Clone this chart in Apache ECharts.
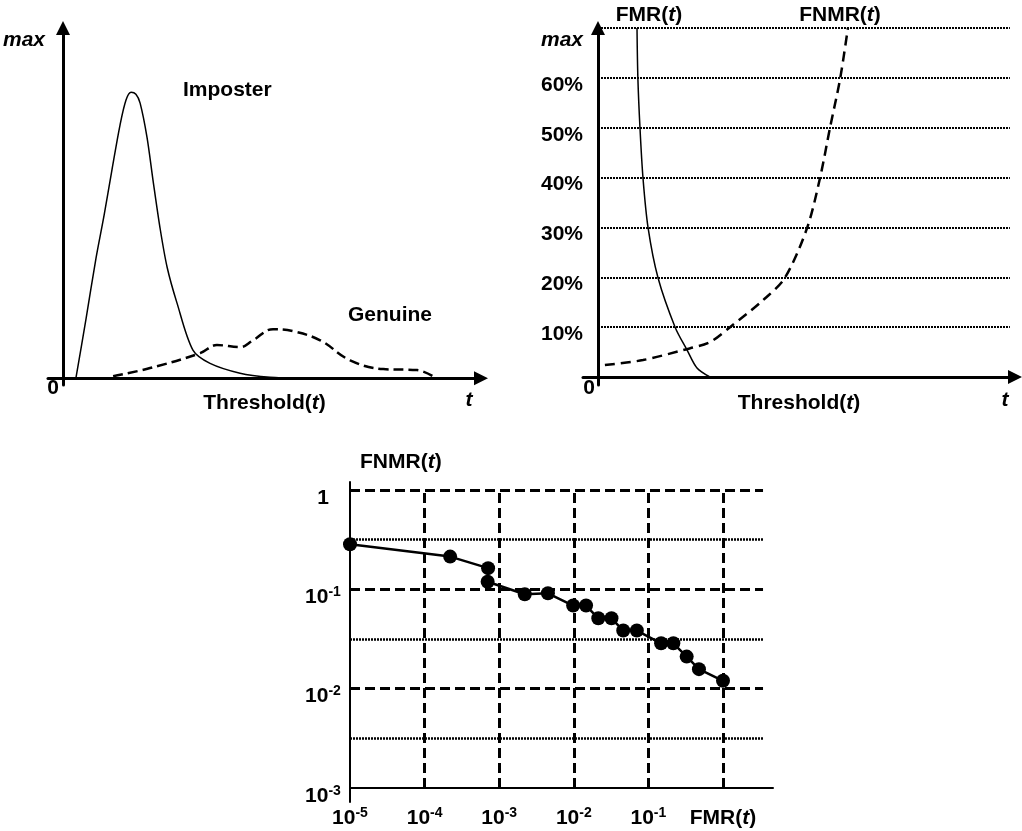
<!DOCTYPE html>
<html>
<head>
<meta charset="utf-8">
<script src="https://cdn.jsdelivr.net/npm/echarts@6/dist/echarts.min.js"></script>
<style>html,body{margin:0;padding:0;background:#fff}#chart{width:1022px;height:831px}</style>
</head>
<body>
<div id="chart"></div>
<script>
// top left: score distributions (threshold units / density units, max = 10)
var imposterT = [0.43, 0.77, 1.1, 1.37, 1.63, 1.9, 2.1, 2.27, 2.43, 2.57, 2.8, 3.0, 3.23, 3.47, 3.8, 4.33, 4.9, 5.9, 6.9, 7.9];
var imposterD = [0, 1.77, 3.55, 4.82, 6.15, 7.48, 8.22, 8.45, 8.39, 8.13, 7.12, 5.85, 4.46, 3.28, 2.22, 0.83, 0.44, 0.15, 0.03, 0];
var genuineT = [1.67, 2.9, 4.57, 5.13, 5.9, 6.33, 7.0, 7.67, 8.57, 9.57, 10.67, 11.8, 12.33];
var genuineD = [0.06, 0.30, 0.74, 0.98, 0.92, 1.12, 1.45, 1.39, 1.12, 0.53, 0.27, 0.24, 0.06];

// top right: error rates in % against threshold
var fmrT = [1.3, 1.33, 1.4, 1.5, 1.67, 2.0, 2.57, 2.97, 3.3, 3.73];
var fmrV = [70, 59.8, 49.9, 39.9, 29.9, 19.9, 10.0, 5.4, 1.8, 0];
var fnmrT = [0.23, 1.5, 2.83, 3.73, 4.4, 5.5, 6.23, 6.97, 7.4, 7.73, 8.07, 8.33];
var fnmrV = [2.4, 3.4, 5.4, 7.0, 10, 15.4, 19.9, 29.9, 39.9, 49.9, 59.8, 70];
var pctTicks = [10, 20, 30, 40, 50, 60, 70];
var pctLabels = ['10%', '20%', '30%', '40%', '50%', '60%', 'max'];

// bottom: DET curve
var detFmr = [1e-5, 2.2e-4, 7.1e-4, 7.0e-4, 2.2e-3, 4.5e-3, 9.8e-3, 1.46e-2, 2.13e-2, 3.2e-2, 4.6e-2, 7.0e-2, 0.148, 0.216, 0.326, 0.476, 1.0];
var detFnmr = [0.284, 0.213, 0.163, 0.119, 0.089, 0.091, 0.0686, 0.0686, 0.051, 0.051, 0.0384, 0.0384, 0.0286, 0.0286, 0.021, 0.0157, 0.012];
var decadeX = [1e-4, 1e-3, 1e-2, 1e-1, 1];
var decadeY = [1e-2, 1e-1, 1];
var halfDecadeY = [0.00316, 0.0316, 0.316];

var FONT = 'Liberation Sans';
var rich = {
    b: {fontFamily: FONT, fontWeight: 'bold', fontSize: 21, color: '#000', fill: '#000', lineHeight: 24},
    i: {fontFamily: FONT, fontWeight: 'bold', fontStyle: 'italic', fontSize: 21, color: '#000', fill: '#000', lineHeight: 24},
    s: {fontFamily: FONT, fontWeight: 'bold', fontSize: 14, color: '#000', fill: '#000', verticalAlign: 'top'}
};
var withT = function(s){ return '{b|' + s + '(}{i|t}{b|)}'; };

var zip = function(a, b){ return a.map(function(v, i){ return [v, b[i]]; }); };

var txt = function(x, y, s, align, italic){
    return {type: 'text', x: x, y: y, silent: true, style: {
        text: s, fill: '#000', fontFamily: FONT, fontWeight: 'bold', fontSize: 21,
        fontStyle: italic ? 'italic' : 'normal', align: align || 'center', verticalAlign: 'middle'}};
};
var richTxt = function(x, y, s){
    return {type: 'text', x: x, y: y, silent: true, style: {
        text: s, rich: rich, align: 'center', verticalAlign: 'middle'}};
};

var arrowAxis = function(gi, min, max, extra){
    var ax = {
        gridIndex: gi, type: 'value', min: min, max: max,
        axisLine: {onZero: true, lineStyle: {color: '#000', width: 3}, symbol: ['none', 'triangle'], symbolSize: [14, 14]},
        axisTick: {show: false}, axisLabel: {show: false}, splitLine: {show: false}
    };
    return Object.assign(ax, extra || {});
};

var powLabel = function(v, zeroText){
    var l = Math.log10(v), e = Math.round(l);
    if (Math.abs(l - e) > 1e-6) return '';
    if (e === 0) return zeroText;
    return '{b|10}{s|' + e + '}';
};

// gridlines of the right panel
var pctLines = pctTicks.map(function(p, i){
    var lab = {};
    if (pctLabels[i] === 'max') lab = {fontStyle: 'italic', lineHeight: 24};
    return [{coord: [0, p], name: pctLabels[i], label: lab}, {coord: [13.73, p]}];
});

// gridlines of the DET panel
var detLines = [];
decadeY.forEach(function(y){
    detLines.push([{coord: [1e-5, y], lineStyle: {type: [10, 5], width: 3}}, {coord: [3.44, y]}]);
});
halfDecadeY.forEach(function(y){
    detLines.push([{coord: [1e-5, y], lineStyle: {type: [2, 1], width: 2.5}}, {coord: [3.44, y]}]);
});
decadeX.forEach(function(x){
    detLines.push([{coord: [x, 1e-3], lineStyle: {type: [10, 5], width: 3}}, {coord: [x, 1]}]);
});

var chart = echarts.init(document.getElementById('chart'));
chart.setOption({
    animation: false,
    backgroundColor: '#fff',
    grid: [
        {left: 48, top: 28, width: 433, height: 357},
        {left: 583, top: 28, width: 432, height: 357},
        {left: 350, top: 482, width: 423, height: 320}
    ],
    xAxis: [
        arrowAxis(0, -0.5, 13.93, {name: withT('Threshold'), nameLocation: 'middle', nameGap: 6, nameTextStyle: {rich: rich}}),
        arrowAxis(1, -0.5, 13.9, {name: withT('Threshold'), nameLocation: 'middle', nameGap: 6, nameTextStyle: {rich: rich}}),
        {
            gridIndex: 2, type: 'log', logBase: 10, min: 1e-5, max: 4.68, offset: -14,
            axisLine: {lineStyle: {color: '#000', width: 2}},
            axisTick: {show: false}, splitLine: {show: false},
            axisLabel: {margin: 18, rich: rich, formatter: function(v){ return powLabel(v, withT('FMR')); }}
        }
    ],
    yAxis: [
        arrowAxis(0, -0.2, 10.35),
        arrowAxis(1, -1.6, 70),
        {
            gridIndex: 2, type: 'log', logBase: 10, min: 7.23e-4, max: 1.2,
            axisLine: {lineStyle: {color: '#000', width: 2}},
            axisTick: {show: false}, splitLine: {show: false},
            axisLabel: {margin: 27, align: 'center', padding: [16, 0, 0, 0], rich: rich,
                formatter: function(v){ return powLabel(v, '{b|1}'); }},
            name: withT('FNMR'), nameLocation: 'end', nameGap: 8,
            nameTextStyle: {rich: rich, align: 'left', padding: [0, 0, 0, 10]}
        }
    ],
    series: [
        {
            name: 'Imposter', type: 'line', xAxisIndex: 0, yAxisIndex: 0,
            data: zip(imposterT, imposterD), smooth: 0.3, showSymbol: false,
            lineStyle: {color: '#000', width: 1.5}
        },
        {
            name: 'Genuine', type: 'line', xAxisIndex: 0, yAxisIndex: 0,
            data: zip(genuineT, genuineD), smooth: 0.4, showSymbol: false,
            lineStyle: {color: '#000', width: 2.5, type: [10, 5]}
        },
        {
            name: 'FMR', type: 'line', xAxisIndex: 1, yAxisIndex: 1,
            data: zip(fmrT, fmrV), smooth: 0.3, showSymbol: false,
            lineStyle: {color: '#000', width: 1.5},
            markLine: {
                silent: true, symbol: ['none', 'none'], animation: false,
                lineStyle: {color: '#000', type: [2, 1], width: 2},
                label: {show: true, position: 'start', distance: 15, formatter: '{b}',
                    fontFamily: FONT, fontWeight: 'bold', fontSize: 21, color: '#000',
                    verticalAlign: 'top', lineHeight: 14},
                data: pctLines
            }
        },
        {
            name: 'FNMR', type: 'line', xAxisIndex: 1, yAxisIndex: 1,
            data: zip(fnmrT, fnmrV), smooth: 0.3, showSymbol: false,
            lineStyle: {color: '#000', width: 2.5, type: [10, 6]}
        },
        {
            name: 'DET', type: 'line', xAxisIndex: 2, yAxisIndex: 2,
            data: zip(detFmr, detFnmr), symbol: 'circle', symbolSize: 14,
            itemStyle: {color: '#000'}, lineStyle: {color: '#000', width: 2.5},
            markLine: {
                silent: true, symbol: ['none', 'none'], animation: false,
                lineStyle: {color: '#000'}, label: {show: false},
                data: detLines
            }
        }
    ],
    graphic: [
        txt(45, 40, 'max', 'right', true),
        txt(53, 388, '0'),
        txt(469, 400, 't', 'center', true),
        txt(183, 90, 'Imposter', 'left'),
        txt(348, 315, 'Genuine', 'left'),
        txt(589, 388, '0'),
        txt(1005, 400, 't', 'center', true),
        richTxt(649, 15, withT('FMR')),
        richTxt(840, 15, withT('FNMR'))
    ]
});
</script>
</body>
</html>
